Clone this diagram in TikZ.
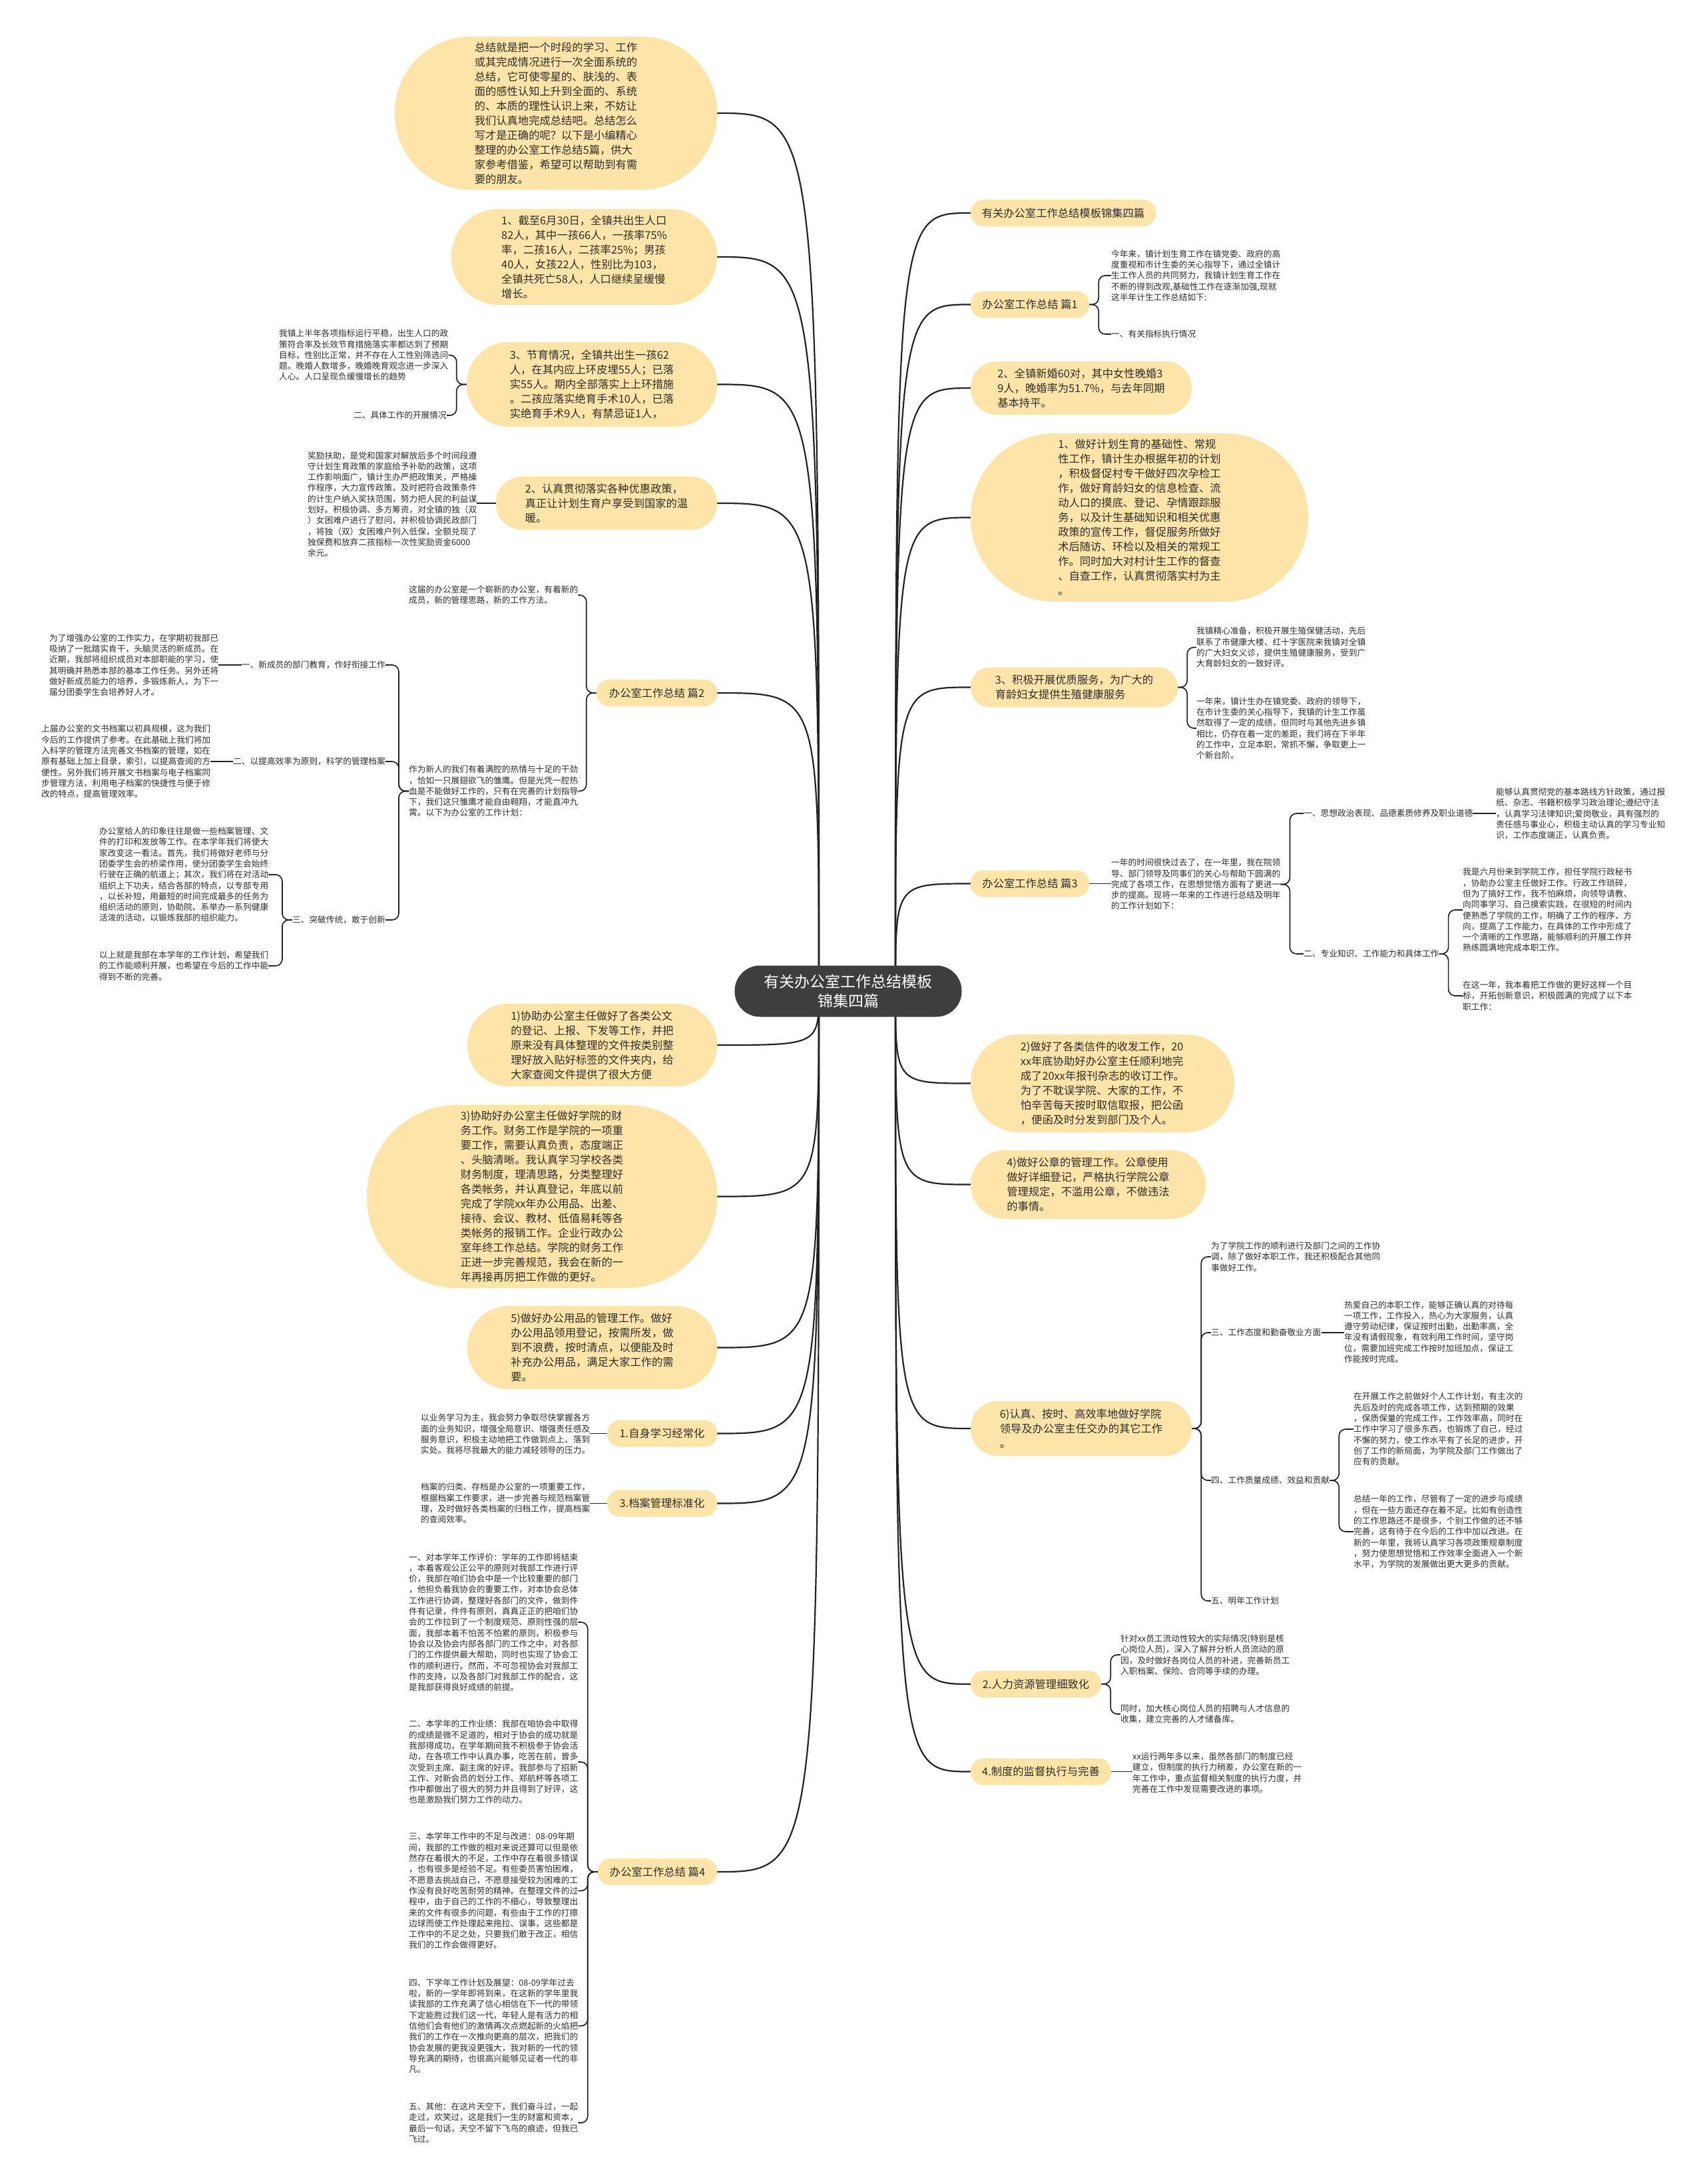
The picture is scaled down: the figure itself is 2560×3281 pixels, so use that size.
\documentclass[tikz,border=0pt]{standalone}
\usepackage{fontspec}
\setmainfont{Noto Sans CJK SC}
\usetikzlibrary{backgrounds,calc}
\definecolor{bub}{RGB}{253,228,168}
\definecolor{ink}{RGB}{45,45,45}
\definecolor{ctrc}{RGB}{62,62,62}
\definecolor{lnc}{RGB}{35,35,35}
\newcommand\myBig{\fontsize{16.3pt}{22pt}\selectfont}
\newcommand\mySmall{\fontsize{12.7pt}{16.3pt}\selectfont}
\newcommand\myCtr{\fontsize{23pt}{29pt}\selectfont}
\begin{document}
\begin{tikzpicture}[x=1pt,y=-1pt,
 bubble/.style={fill=bub, text=ink, font=\myBig, align=left, inner sep=0pt},
 bsz/.style n args={3}{minimum width=#1pt, minimum height=#2pt, rounded corners=#3pt},
 ctrnode/.style={fill=ctrc, text=white, font=\myCtr, align=center, inner sep=0pt, minimum width=341pt, minimum height=77pt, rounded corners=38pt},
 sm/.style={font=\mySmall, text=ink, align=left, inner sep=0pt},
 mainln/.style={draw=lnc, line width=2.2pt},
 subln/.style={draw=lnc, line width=1.7pt, rounded corners=10pt}]
\useasboundingbox (0,0) rectangle (2560,3281);

% centre
\node[ctrnode] (C) at (1274,1489) {有关办公室工作总结模板\\锦集四篇};

% ---------- left bubbles ----------
\node[bubble, bsz={484}{230}{114}] (L0) at (835,170) {总结就是把一个时段的学习、工作\\或其完成情况进行一次全面系统的\\总结，它可使零星的、肤浅的、表\\面的感性认知上升到全面的、系统\\的、本质的理性认识上来，不妨让\\我们认真地完成总结吧。总结怎么\\写才是正确的呢？以下是小编精心\\整理的办公室工作总结5篇，供大\\家参考借鉴，希望可以帮助到有需\\要的朋友。};
\node[bubble, bsz={399}{144}{71}] (L1) at (877.5,386) {1、截至6月30日，全镇共出生人口\\82人，其中一孩66人，一孩率75\%\\率，二孩16人，二孩率25\%；男孩\\40人，女孩22人，性别比为103，\\全镇共死亡58人，人口继续呈缓慢\\增长。};
\node[bubble, bsz={376}{127}{63}] (L2) at (889,577.5) {3、节育情况，全镇共出生一孩62\\人，在其内应上环皮埋55人；已落\\实55人。期内全部落实上上环措施\\。二孩应落实绝育手术10人，已落\\实绝育手术9人，有禁忌证1人，};
\node[bubble, bsz={332}{80}{39}] (L3) at (911,756) {2、认真贯彻落实各种优惠政策，\\真正让计划生育户享受到国家的温\\暖。};
\node[bubble, bsz={181}{40}{19}] (L4) at (986.5,1041) {办公室工作总结 篇2};
\node[bubble, bsz={375}{124}{61}] (L5) at (889.5,1570) {1)协助办公室主任做好了各类公文\\的登记、上报、下发等工作，并把\\原来没有具体整理的文件按类别整\\理好放入贴好标签的文件夹内，给\\大家查阅文件提供了很大方便};
\node[bubble, bsz={526}{275}{136}] (L6) at (814,1797.5) {3)协助好办公室主任做好学院的财\\务工作。财务工作是学院的一项重\\要工作，需要认真负责，态度端正\\、头脑清晰。我认真学习学校各类\\财务制度，理清思路，分类整理好\\各类帐务，并认真登记，年底以前\\完成了学院xx年办公用品、出差、\\接待、会议、教材、低值易耗等各\\类帐务的报销工作。企业行政办公\\室年终工作总结。学院的财务工作\\正进一步完善规范，我会在新的一\\年再接再厉把工作做的更好。};
\node[bubble, bsz={375}{125}{62}] (L7) at (889.5,2024.5) {5)做好办公用品的管理工作。做好\\办公用品领用登记，按需所发，做\\到不浪费，按时清点，以便能及时\\补充办公用品，满足大家工作的需\\要。};
\node[bubble, bsz={165}{40}{19}] (L8) at (994.5,2153.5) {1.自身学习经常化};
\node[bubble, bsz={165}{40}{19}] (L9) at (994.5,2258.5) {3.档案管理标准化};
\node[bubble, bsz={179}{40}{19}] (L10) at (987.5,2812) {办公室工作总结 篇4};

% ---------- right bubbles ----------
\node[bubble, bsz={278}{40}{19}] (R1) at (1597,320) {有关办公室工作总结模板锦集四篇};
\node[bubble, bsz={178}{40}{19}] (R2) at (1547,457.5) {办公室工作总结 篇1};
\node[bubble, bsz={332}{80}{39}] (R3) at (1624,583) {2、全镇新婚60对，其中女性晚婚3\\9人，晚婚率为51.7\%，与去年同期\\基本持平。};
\node[bubble, bsz={507}{253}{126}] (R4) at (1711.5,777.5) {1、做好计划生育的基础性、常规\\性工作，镇计生办根据年初的计划\\，积极督促村专干做好四次孕检工\\作，做好育龄妇女的信息检查、流\\动人口的摸底、登记、孕情跟踪服\\务，以及计生基础知识和相关优惠\\政策的宣传工作，督促服务所做好\\术后随访、环检以及相关的常规工\\作。同时加大对村计生工作的督查\\、自查工作，认真贯彻落实村为主\\。};
\node[bubble, bsz={311}{60}{29}] (R5) at (1613.5,1032.5) {3、积极开展优质服务，为广大的\\育龄妇女提供生殖健康服务};
\node[bubble, bsz={178}{40}{19}] (R6) at (1547,1327.5) {办公室工作总结 篇3};
\node[bubble, bsz={396}{147}{73}] (R7) at (1656,1627.5) {2)做好了各类信件的收发工作，20\\xx年底协助好办公室主任顺利地完\\成了20xx年报刊杂志的收订工作。\\为了不耽误学院、大家的工作，不\\怕辛苦每天按时取信取报，把公函\\，便函及时分发到部门及个人。};
\node[bubble, bsz={353}{103}{51}] (R8) at (1634.5,1779.5) {4)做好公章的管理工作。公章使用\\做好详细登记，严格执行学院公章\\管理规定，不滥用公章，不做违法\\的事情。};
\node[bubble, bsz={332}{82}{40}] (R9) at (1624,2146) {6)认真、按时、高效率地做好学院\\领导及办公室主任交办的其它工作\\。};
\node[bubble, bsz={196}{40}{19}] (R10) at (1556,2530) {2.人力资源管理细致化};
\node[bubble, bsz={211}{40}{19}] (R11) at (1563.5,2661.5) {4.制度的监督执行与完善};

% ---------- right small texts ----------
\node[sm, anchor=west] (R2a) at (1669,414) {今年来，镇计划生育工作在镇党委、政府的高\\度重视和市计生委的关心指导下，通过全镇计\\生工作人员的共同努力，我镇计划生育工作在\\不断的得到改观,基础性工作在逐渐加强,现就\\这半年计生工作总结如下:};
\node[sm, anchor=west] (R2b) at (1669,502) {一、有关指标执行情况};
\node[sm, anchor=west] (R5a) at (1797,972.5) {我镇精心准备，积极开展生殖保健活动，先后\\联系了市健康大楼、红十字医院来我镇对全镇\\的广大妇女义诊，提供生殖健康服务，受到广\\大育龄妇女的一致好评。};
\node[sm, anchor=west] (R5b) at (1797,1094) {一年来，镇计生办在镇党委、政府的领导下，\\在市计生委的关心指导下，我镇的计生工作虽\\然取得了一定的成绩，但同时与其他先进乡镇\\相比，仍存在着一定的差距，我们将在下半年\\的工作中，立足本职，常抓不懈，争取更上一\\个新台阶。};
\node[sm, anchor=west] (R6i) at (1669,1328.5) {一年的时间很快过去了，在一年里，我在院领\\导、部门领导及同事们的关心与帮助下圆满的\\完成了各项工作，在思想觉悟方面有了更进一\\步的提高。现将一年来的工作进行总结及明年\\的工作计划如下：};
\node[sm, anchor=west] (R6y) at (1958,1222) {一、思想政治表现、品德素质修养及职业道德};
\node[sm, anchor=west] (R6yt) at (2247,1222.5) {能够认真贯彻党的基本路线方针政策，通过报\\纸、杂志、书籍积极学习政治理论;遵纪守法\\，认真学习法律知识;爱岗敬业，具有强烈的\\责任感与事业心，积极主动认真的学习专业知\\识，工作态度端正，认真负责。};
\node[sm, anchor=west] (R6e) at (1958,1433) {二、专业知识、工作能力和具体工作};
\node[sm, anchor=west] (R6c) at (2197,1367) {我是六月份来到学院工作，担任学院行政秘书\\，协助办公室主任做好工作。行政工作琐碎，\\但为了搞好工作，我不怕麻烦，向领导请教、\\向同事学习、自己摸索实践，在很短的时间内\\便熟悉了学院的工作，明确了工作的程序、方\\向，提高了工作能力，在具体的工作中形成了\\一个清晰的工作思路，能够顺利的开展工作并\\熟练圆满地完成本职工作。};
\node[sm, anchor=west] (R6d) at (2197,1496) {在这一年，我本着把工作做的更好这样一个目\\标，开拓创新意识，积极圆满的完成了以下本\\职工作：};
\node[sm, anchor=west] (R9a) at (1819,1888) {为了学院工作的顺利进行及部门之间的工作协\\调，除了做好本职工作，我还积极配合其他同\\事做好工作。};
\node[sm, anchor=west] (R9s) at (1819,2002) {三、工作态度和勤奋敬业方面};
\node[sm, anchor=west] (R9st) at (2019,2001) {热爱自己的本职工作，能够正确认真的对待每\\一项工作，工作投入，热心为大家服务，认真\\遵守劳动纪律，保证按时出勤，出勤率高，全\\年没有请假现象，有效利用工作时间，坚守岗\\位，需要加班完成工作按时加班加点，保证工\\作能按时完成。};
\node[sm, anchor=west] (R9f) at (1819,2224) {四、工作质量成绩、效益和贡献};
\node[sm, anchor=west] (R9e) at (2033,2147) {在开展工作之前做好个人工作计划，有主次的\\先后及时的完成各项工作，达到预期的效果\\，保质保量的完成工作，工作效率高，同时在\\工作中学习了很多东西，也锻炼了自己，经过\\不懈的努力，使工作水平有了长足的进步，开\\创了工作的新局面，为学院及部门工作做出了\\应有的贡献。};
\node[sm, anchor=west] (R9g) at (2033,2301) {总结一年的工作，尽管有了一定的进步与成绩\\，但在一些方面还存在着不足。比如有创造性\\的工作思路还不是很多，个别工作做的还不够\\完善，这有待于在今后的工作中加以改进。在\\新的一年里，我将认真学习各项政策规章制度\\，努力使思想觉悟和工作效率全面进入一个新\\水平，为学院的发展做出更大更多的贡献。};
\node[sm, anchor=west] (R9w) at (1819,2405) {五、明年工作计划};
\node[sm, anchor=west] (R10g) at (1683,2486) {针对xx员工流动性较大的实际情况(特别是核\\心岗位人员)，深入了解并分析人员流动的原\\因，及时做好各岗位人员的补进，完善新员工\\入职档案、保险、合同等手续的办理。};
\node[sm, anchor=west] (R10h) at (1683,2575) {同时，加大核心岗位人员的招聘与人才信息的\\收集，建立完善的人才储备库。};
\node[sm, anchor=west] (R11i) at (1701,2663) {xx运行两年多以来，虽然各部门的制度已经\\建立，但制度的执行力稍差，办公室在新的一\\年工作中，重点监督相关制度的执行力度，并\\完善在工作中发现需要改进的事项。};

% ---------- left small texts ----------
\node[sm, anchor=west] (L2a) at (419,533.5) {我镇上半年各项指标运行平稳，出生人口的政\\策符合率及长效节育措施落实率都达到了预期\\目标，性别比正常，并不存在人工性别筛选问\\题。晚婚人数增多，晚婚晚育观念进一步深入\\人心。人口呈现负缓慢增长的趋势};
\node[sm, anchor=east] (L2b) at (671,624) {二、具体工作的开展情况};
\node[sm, anchor=west] (L3a) at (462,757.5) {奖励扶助，是党和国家对解放后多个时间段遵\\守计划生育政策的家庭给予补助的政策，这项\\工作影响面广，镇计生办严把政策关，严格操\\作程序，大力宣传政策，及时把符合政策条件\\的计生户纳入奖扶范围，努力把人民的利益谋\\划好。积极协调、多方筹资，对全镇的独（双\\）女困难户进行了慰问，并积极协调民政部门\\，将独（双）女困难户列入低保，全额兑现了\\独保费和放弃二孩指标一次性奖励资金6000\\余元。};
\node[sm, anchor=west] (L4a) at (614,894) {这届的办公室是一个崭新的办公室，有着新的\\成员，新的管理思路，新的工作方法。};
\node[sm, anchor=west] (L4b) at (614,1188.5) {作为新人的我们有着满腔的热情与十足的干劲\\，恰如一只展翅欲飞的雏鹰。但是光凭一腔热\\血是不能做好工作的，只有在完善的计划指导\\下，我们这只雏鹰才能自由翱翔，才能直冲九\\霄。以下为办公室的工作计划：};
\node[sm, anchor=east] (L4y) at (579,999) {一、新成员的部门教育，作好衔接工作};
\node[sm, anchor=west] (L4yt) at (74,999) {为了增强办公室的工作实力，在学期初我部已\\吸纳了一批踏实肯干，头脑灵活的新成员。在\\近期，我部将组织成员对本部职能的学习，使\\其明确并熟悉本部的基本工作任务。另外还将\\做好新成员能力的培养，多锻炼新人，为下一\\届分团委学生会培养好人才。};
\node[sm, anchor=east] (L4e) at (579,1144) {二、以提高效率为原则，科学的管理档案};
\node[sm, anchor=west] (L4et) at (62,1144) {上届办公室的文书档案以初具规模，这为我们\\今后的工作提供了参考。在此基础上我们将加\\入科学的管理方法完善文书档案的管理，如在\\原有基础上加上目录，索引，以提高查阅的方\\便性。另外我们将开展文书档案与电子档案同\\步管理方法，利用电子档案的快捷性与便于修\\改的特点，提高管理效率。};
\node[sm, anchor=east] (L4s) at (579,1382) {三、突破传统，敢于创新};
\node[sm, anchor=west] (L4sa) at (149,1314) {办公室给人的印象往往是做一些档案管理、文\\件的打印和发放等工作。在本学年我们将使大\\家改变这一看法。首先，我们将做好老师与分\\团委学生会的桥梁作用，使分团委学生会始终\\行驶在正确的航道上；其次，我们将在对活动\\组织上下功夫，结合各部的特点，以专部专用\\，以长补短，用最短的时间完成最多的任务为\\组织活动的原则，协助院、系举办一系列健康\\活泼的活动，以锻炼我部的组织能力。};
\node[sm, anchor=west] (L4sb) at (149,1451) {以上就是我部在本学年的工作计划，希望我们\\的工作能顺利开展，也希望在今后的工作中能\\得到不断的完善。};
\node[sm, anchor=west] (L8a) at (632,2154.5) {以业务学习为主，我会努力争取尽快掌握各方\\面的业务知识，增强全局意识、增强责任感及\\服务意识，积极主动地把工作做到点上、落到\\实处。我将尽我最大的能力减轻领导的压力。};
\node[sm, anchor=west] (L9a) at (632,2258.5) {档案的归类、存档是办公室的一项重要工作，\\根据档案工作要求，进一步完善与规范档案管\\理，及时做好各类档案的归档工作，提高档案\\的查阅效率。};
\node[sm, anchor=west] (L10a) at (614,2437) {一、对本学年工作评价：学年的工作即将结束\\，本着客观公正公平的原则对我部工作进行评\\价，我部在咱们协会中是一个比较重要的部门\\，他担负着我协会的重要工作，对本协会总体\\工作进行协调，整理好各部门的文件，做到件\\件有记录，件件有原则，真真正正的把咱们协\\会的工作拉到了一个制度规范、原则性强的层\\面，我部本着不怕苦不怕累的原则，积极参与\\协会以及协会内部各部门的工作之中，对各部\\门的工作提供最大帮助，同时也实现了协会工\\作的顺利进行。然而，不可忽视协会对我部工\\作的支持，以及各部门对我部工作的配合，这\\是我部获得良好成绩的前提。};
\node[sm, anchor=west] (L10b) at (614,2647) {二、本学年的工作业绩：我部在咱协会中取得\\的成绩是微不足道的，相对于协会的成功就是\\我部得成功，在学年期间我不积极参于协会活\\动，在各项工作中认真办事，吃苦在前，曾多\\次受到主席、副主席的好评。我部参与了招新\\工作、对新会员的划分工作、郑航杯等各项工\\作中都做出了很大的努力并且得到了好评，这\\也是激励我们努力工作的动力。};
\node[sm, anchor=west] (L10c) at (614,2840.5) {三、本学年工作中的不足与改进：08-09年期\\间，我部的工作做的相对来说还算可以但是依\\然存在着很大的不足，工作中存在着很多错误\\，也有很多是经验不足。有些委员害怕困难，\\不愿意去挑战自己，不愿意接受较为困难的工\\作没有良好吃苦耐劳的精神。在整理文件的过\\程中，由于自己的工作的不细心，导致整理出\\来的文件有很多的问题，有些由于工作的打擦\\边球而使工作处理起来拖拉、误事，这些都是\\工作中的不足之处，只要我们敢于改正，相信\\我们的工作会做得更好。};
\node[sm, anchor=west] (L10d) at (614,3043.5) {四、下学年工作计划及展望：08-09学年过去\\啦，新的一学年即将到来，在这新的学年里我\\读我部的工作充满了信心相信在下一代的带领\\下定能胜过我们这一代，年轻人是有活力的相\\信他们会有他们的激情再次点燃起新的火焰把\\我们的工作在一次推向更高的层次，把我们的\\协会发展的更我没更强大，我对新的一代的领\\导充满的期待，也很高兴能够见证者一代的非\\凡。};
\node[sm, anchor=west] (L10e) at (614,3189) {五、其他：在这片天空下，我们奋斗过，一起\\走过，欢笑过，这是我们一生的财富和资本，\\最后一句话，天空不留下飞鸟的痕迹，但我已\\飞过。};

% ---------- connectors ----------
\begin{scope}[on background layer]
\fill[white] (0,0) rectangle (2560,3281);
\coordinate (SL) at (1230,1489);
\coordinate (SR) at (1345,1489);
\foreach \n in {L0,L1,L2,L3,L4,L5,L6,L7,L8,L9,L10}
  {\draw[mainln] (SL) .. controls (SL |- \n.east) .. (\n.east);}
\foreach \n in {R1,R2,R3,R4,R5,R6,R7,R8,R9,R10,R11}
  {\draw[mainln] (SR) .. controls (SR |- \n.west) .. (\n.west);}
% right
\foreach \c in {R2a,R2b} {\draw[subln] (R2.east) -- ++(14,0) |- (\c.west);}
\foreach \c in {R5a,R5b} {\draw[subln] (R5.east) -- ++(14,0) |- (\c.west);}
\draw[subln] (R6.east) -- (R6.east -| R6i.west);
\foreach \c in {R6y,R6e} {\draw[subln] (R6i.east) -- ++(14,0) |- (\c.west);}
\draw[subln] (R6y.east) -- (R6y.east -| R6yt.west);
\foreach \c in {R6c,R6d} {\draw[subln] (R6e.east) -- ++(14,0) |- (\c.west);}
\foreach \c in {R9a,R9s,R9f,R9w} {\draw[subln] (R9.east) -- ++(14,0) |- (\c.west);}
\draw[subln] (R9s.east) -- (R9s.east -| R9st.west);
\foreach \c in {R9e,R9g} {\draw[subln] (R9f.east) -- ++(14,0) |- (\c.west);}
\foreach \c in {R10g,R10h} {\draw[subln] (R10.east) -- ++(14,0) |- (\c.west);}
\draw[subln] (R11.east) -- (R11.east -| R11i.west);
% left
\foreach \c in {L2a,L2b} {\draw[subln] (L2.west) -- ++(-15,0) |- (\c.east);}
\draw[subln] (L3.west) -- (L3.west -| L3a.east);
\foreach \c in {L4a,L4b} {\draw[subln] (L4.west) -- ++(-15,0) |- (\c.east);}
\foreach \c in {L4y,L4e,L4s} {\draw[subln] (L4b.west) -- ++(-15,0) |- (\c.east);}
\draw[subln] (L4y.west) -- (L4y.west -| L4yt.east);
\draw[subln] (L4e.west) -- (L4e.west -| L4et.east);
\foreach \c in {L4sa,L4sb} {\draw[subln] (L4s.west) -- ++(-15,0) |- (\c.east);}
\draw[subln] (L8.west) -- (L8.west -| L8a.east);
\draw[subln] (L9.west) -- (L9.west -| L9a.east);
\foreach \c in {L10a,L10b,L10c,L10d,L10e} {\draw[subln] (L10.west) -- ++(-15,0) |- (\c.east);}
\end{scope}
\end{tikzpicture}
\end{document}
